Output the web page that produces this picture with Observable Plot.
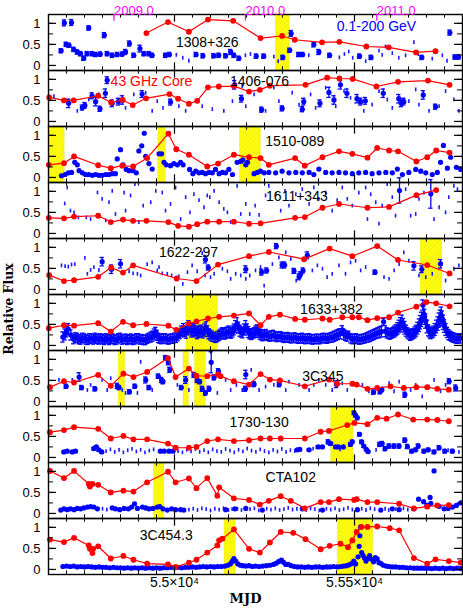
<!DOCTYPE html>
<html><head><meta charset="utf-8">
<script src="https://cdn.jsdelivr.net/npm/d3@7"></script>
<script src="https://cdn.jsdelivr.net/npm/@observablehq/plot@0.6"></script>
<style>html,body{margin:0;padding:0;background:#fff}#chart svg{display:block}</style>
</head><body><div id="chart"></div>
<script>
const sources = ["1308+326","1406-076","1510-089","1611+343","1622-297","1633+382","3C345","1730-130","CTA102","3C454.3"];
const yearTicks = [54832, 55197, 55562];
const yearLabels = ["2009.0","2010.0","2011.0"];
const mjdTicks = [55000, 55500];
const mjdLabels = ["5.5×10⁴","5.55×10⁴"];
const fluxTicks = [0, 0.5, 1];
const fluxTickLabels = ["0","0.5","1"];

// ---- 1308+326 ----
const radio_1308 = [[54922,0.77],[54982,1.03],[55040,0.80],[55093,1.09],[55163,1.06],[55239,0.65],[55299,0.70],[55334,0.61],[55410,0.55],[55458,0.56],[55533,0.45],[55595,0.43],[55671,0.31],[55725,0.34]];
const det_1308 = [[54685,0.35,0.05],[54694,1.01,0.07],[54699,0.50,0.05],[54707,0.48,0.05],[54714,1.02,0.07],[54720,0.38,0.05],[54730,0.32,0.05],[54739,0.28,0.05],[54748,0.17,0.05],[54757,0.28,0.05],[54762,0.89,0.05],[54771,0.28,0.05],[54781,0.26,0.05],[54794,0.27,0.05],[54805,0.72,0.06],[54813,0.28,0.05],[54827,0.24,0.05],[54841,0.26,0.05],[54855,0.27,0.05],[54864,0.32,0.06],[54875,0.52,0.06],[54887,0.24,0.05],[54904,0.40,0.08],[54915,0.28,0.05],[54929,0.28,0.05],[54938,0.24,0.05],[54975,0.24,0.05],[54986,0.26,0.05],[55060,0.26,0.05],[55079,0.23,0.05],[55109,0.23,0.05],[55123,0.24,0.05],[55142,0.23,0.05],[55156,0.32,0.06],[55165,0.24,0.05],[55179,0.17,0.05],[55227,0.22,0.05],[55248,0.22,0.05],[55301,0.19,0.05],[55320,0.36,0.05],[55324,0.76,0.07],[55345,0.26,0.05],[55356,0.26,0.05],[55387,0.50,0.06],[55401,0.32,0.06],[55431,0.24,0.05],[55514,0.22,0.05],[55546,0.19,0.05],[55687,0.19,0.05],[55765,0.78,0.06],[55779,0.20,0.05],[55789,0.20,0.05]];
const ul_1308 = [[55005,0.24],[55023,0.17],[55040,0.10],[55197,0.23],[55211,0.26],[55276,0.20],[55288,0.09],[55373,0.23],[55458,0.18],[55472,0.26],[55484,0.32],[55495,0.17],[55531,0.09],[55568,0.34],[55577,0.24],[55586,0.44],[55605,0.28],[55623,0.17],[55642,0.23],[55665,0.54],[55677,0.26],[55716,0.15],[55744,0.23],[55757,0.10]];
const shade_1308 = [[55282,55320]];

// ---- 1406-076 ----
const radio_1406 = [[54652,0.57],[54693,0.50],[54720,0.50],[54788,0.61],[54824,0.45],[54856,0.51],[54884,0.39],[54921,0.55],[54986,0.65],[55010,0.54],[55040,0.42],[55063,0.49],[55093,0.81],[55123,0.83],[55165,0.84],[55207,0.71],[55237,0.75],[55265,0.85],[55364,0.87],[55424,1.04],[55458,1.02],[55495,1.01],[55561,0.83],[55621,0.94],[55704,0.97],[55764,0.87]];
const det_1406 = [[54706,0.43,0.1],[54744,0.33,0.06],[54751,0.38,0.07],[54771,0.61,0.07],[54781,0.47,0.1],[54793,0.30,0.06],[54808,0.67,0.1],[54813,0.98,0.08],[54827,0.43,0.08],[54844,0.47,0.08],[54855,0.51,0.1],[54910,0.65,0.08],[54989,0.46,0.07],[55167,0.87,0.1],[55186,0.54,0.08],[55242,0.28,0.06],[55299,0.31,0.06],[55355,0.29,0.06],[55359,0.47,0.08],[55404,0.43,0.08],[55429,0.69,0.12],[55443,0.51,0.1],[55461,0.87,0.1],[55479,0.67,0.1],[55507,0.54,0.1],[55517,0.47,0.08],[55530,0.49,0.08],[55580,0.67,0.1],[55623,0.54,0.1],[55630,0.43,0.08],[55637,0.47,0.08],[55691,0.63,0.1],[55725,0.35,0.06]];
const ul_1406 = [[54665,0.59],[54730,0.24],[54762,0.51],[54790,0.63],[54864,0.31],[54887,0.63],[54920,0.67],[54938,0.24],[54952,0.47],[54968,0.31],[55012,0.35],[55031,0.24],[55077,0.35],[55105,0.28],[55137,0.24],[55161,0.47],[55188,0.83],[55198,0.35],[55221,0.63],[55253,0.24],[55276,0.79],[55290,0.47],[55327,0.67],[55346,0.39],[55378,0.63],[55392,0.31],[55420,0.79],[55448,0.35],[55471,0.71],[55489,0.55],[55526,0.24],[55549,0.39],[55568,0.71],[55591,0.51],[55605,0.31],[55651,0.47],[55670,0.75],[55679,0.39],[55707,0.24],[55735,0.35],[55753,0.71],[55776,0.51],[55790,0.24]];
const shade_1406 = [];

// ---- 1510-089 ----
const radio_1510 = [[54651,0.30],[54693,0.34],[54721,0.50],[54788,0.29],[54823,0.22],[54855,0.28],[54885,0.26],[54924,0.46],[54983,1.04],[55005,0.67],[55040,0.54],[55091,0.26],[55121,0.33],[55165,0.54],[55207,0.48],[55239,0.46],[55262,0.30],[55335,0.46],[55362,0.28],[55411,0.48],[55457,0.62],[55494,0.56],[55536,0.47],[55563,0.70],[55596,0.64],[55621,0.62],[55672,0.38],[55702,0.48],[55727,0.64],[55764,0.59]];
const det_1510 = [[54686,0.04,0],[54696,0.07,0],[54705,0.11,0],[54714,0.12,0],[54723,0.36,0],[54730,0.30,0],[54735,0.16,0],[54744,0.11,0],[54753,0.07,0],[54762,0.07,0],[54772,0.05,0],[54781,0.07,0],[54790,0.05,0],[54799,0.05,0],[54809,0.07,0],[54818,0.07,0],[54827,0.09,0],[54836,0.09,0],[54841,0.44,0],[54850,0.66,0],[54857,0.30,0],[54866,0.19,0],[54874,0.16,0],[54885,0.16,0],[54894,0.11,0],[54901,0.63,0],[54909,0.75,0],[54916,1.05,0],[54920,0.50,0],[54929,0.33,0],[54938,0.20,0],[54957,0.56,0],[54964,0.56,0],[54971,0.36,0],[54977,0.30,0],[54989,0.28,0],[54998,0.33,0],[55008,0.30,0],[55017,0.36,0],[55024,0.30,0],[55042,0.19,0],[55051,0.09,0],[55059,0.15,0],[55068,0.11,0],[55077,0.12,0],[55086,0.09,0],[55096,0.12,0],[55105,0.11,0],[55114,0.19,0],[55124,0.09,0],[55133,0.12,0],[55142,0.11,0],[55151,0.19,0],[55161,0.07,0],[55174,0.36,0],[55184,0.38,0],[55190,0.42,0],[55198,0.30,0],[55203,0.36,0],[55221,0.09,0],[55230,0.12,0],[55239,0.15,0],[55249,0.11,0],[55262,0.12,0],[55281,0.11,0],[55299,0.15,0],[55318,0.11,0],[55337,0.12,0],[55355,0.11,0],[55374,0.12,0],[55387,0.07,0],[55401,0.20,0],[55420,0.12,0],[55438,0.11,0],[55457,0.12,0],[55475,0.11,0],[55494,0.09,0],[55512,0.11,0],[55531,0.12,0],[55549,0.09,0],[55568,0.11,0],[55587,0.12,0],[55605,0.11,0],[55619,0.20,0],[55633,0.07,0],[55651,0.12,0],[55670,0.19,0],[55684,0.15,0],[55698,0.11,0],[55716,0.07,0],[55730,0.12,0],[55739,0.36,0],[55747,0.76,0],[55758,0.22,0],[55767,0.48,0],[55783,0.24,0],[55795,0.19,0]];
const ul_1510 = [];
const shade_1510 = [[54653,54695],[54955,54976],[55182,55240]];

// ---- 1611+343 ----
const radio_1611 = [[54651,0.37],[54693,0.36],[54721,0.40],[54788,0.42],[54823,0.27],[54857,0.33],[54885,0.30],[54922,0.30],[54983,0.27],[55010,0.18],[55040,0.16],[55063,0.22],[55091,0.28],[55124,0.28],[55165,0.28],[55207,0.23],[55239,0.24],[55335,0.37],[55362,0.39],[55411,0.61],[55457,0.70],[55536,0.61],[55596,0.63],[55672,0.91],[55727,1.03]];
const det_1611 = [[55625,1.02,0.3],[55712,0.94,0.34]];
const ul_1611 = [[54702,1.08],[54695,0.70],[54711,0.53],[54721,0.49],[54733,0.37],[54755,0.37],[54767,0.33],[54786,0.96],[54790,0.41],[54799,0.81],[54809,0.30],[54818,0.73],[54827,1.00],[54836,0.45],[54860,0.96],[54864,0.53],[54878,0.89],[54890,1.16],[54901,0.26],[54913,0.65],[54934,0.73],[54948,1.00],[54966,0.96],[54975,0.53],[54989,0.69],[55003,1.08],[55017,0.33],[55031,0.85],[55043,0.49],[55054,0.92],[55068,0.78],[55082,0.61],[55091,0.89],[55098,0.85],[55110,1.00],[55124,0.73],[55137,0.57],[55147,0.49],[55156,0.26],[55174,1.12],[55184,0.45],[55198,0.69],[55209,0.45],[55224,0.65],[55235,0.43],[55253,0.89],[55262,1.12],[55281,0.92],[55295,0.53],[55307,1.00],[55318,0.65],[55337,0.92],[55355,1.04],[55374,0.69],[55387,1.08],[55401,0.81],[55420,0.96],[55438,0.53],[55452,0.78],[55466,1.08],[55480,0.81],[55494,0.65],[55512,0.96],[55531,1.08],[55536,0.33],[55545,0.92],[55559,0.73],[55568,0.22],[55577,0.65],[55591,1.16],[55605,0.85],[55614,0.41],[55642,1.04],[55656,0.41],[55670,0.45],[55679,0.81],[55693,0.96],[55721,0.33],[55735,0.61],[55753,0.49],[55762,0.85],[55776,1.12],[55786,1.04]];
const shade_1611 = [];

// ---- 1622-297 ----
const radio_1622 = [[54652,0.34],[54693,0.20],[54721,0.22],[54788,0.30],[54824,0.52],[54857,0.40],[54885,0.57],[55006,0.26],[55061,0.20],[55121,0.59],[55207,0.79],[55262,0.89],[55360,0.72],[55431,0.97],[55494,0.79],[55563,1.03],[55621,0.70],[55702,0.58],[55764,0.38]];
const det_1622 = [[54799,0.66,0.1],[54825,0.48,0.1],[54850,0.61,0.1],[55086,0.71,0.08],[55094,0.52,0.06],[55198,0.48,0.08],[55242,0.41,0.07],[55256,0.45,0.06],[55283,1.03,0.06],[55299,0.58,0.07],[55306,0.58,0.07],[55332,0.44,0.06],[55346,0.30,0.07],[55350,0.36,0.06],[55357,0.45,0.06],[55369,0.81,0.08],[55557,0.41,0.05],[55665,0.56,0.1],[55687,0.48,0.08],[55739,0.61,0.1]];
const ul_1622 = [[54686,0.56],[54696,0.54],[54705,0.53],[54714,0.58],[54723,0.59],[54751,0.74],[54758,0.36],[54767,0.45],[54776,0.52],[54790,0.45],[54874,0.42],[54885,0.37],[54897,0.36],[54906,0.32],[54924,0.59],[54938,0.63],[54952,0.44],[54957,0.52],[54966,0.37],[54980,0.36],[54992,0.32],[55012,0.30],[55023,0.12],[55036,0.40],[55049,0.56],[55063,0.42],[55077,0.85],[55085,0.32],[55100,0.28],[55110,0.36],[55133,0.48],[55147,0.42],[55156,0.24],[55170,0.36],[55184,0.32],[55198,0.24],[55209,0.32],[55225,0.44],[55239,0.52],[55249,0.08],[55272,0.59],[55290,0.75],[55309,0.87],[55323,0.71],[55338,0.20],[55383,0.44],[55397,0.56],[55411,0.48],[55424,0.28],[55438,0.36],[55457,0.56],[55475,0.36],[55489,0.63],[55503,0.67],[55517,0.44],[55531,0.52],[55582,0.28],[55596,0.24],[55610,0.44],[55624,0.59],[55637,0.87],[55651,0.67],[55679,0.32],[55698,0.28],[55716,0.36],[55753,0.20],[55776,0.48],[55790,0.56]];
const shade_1622 = [[55684,55744]];

// ---- 1633+382 ----
const radio_1633 = [[54651,0.41],[54693,0.48],[54721,0.47],[54788,0.53],[54823,0.33],[54857,0.56],[54885,0.48],[54922,0.51],[54983,0.47],[55005,0.37],[55040,0.52],[55061,0.57],[55093,0.64],[55124,0.68],[55165,0.71],[55207,0.76],[55239,0.48],[55262,0.68],[55293,0.73],[55335,0.63],[55362,0.61],[55411,0.64],[55431,0.61],[55466,0.67],[55494,0.67],[55512,0.67],[55536,0.60],[55563,0.65],[55596,0.67],[55621,0.78],[55672,0.92],[55700,1.03],[55727,1.00],[55764,0.93]];
const det_1633 = [[54690,0.20,0.12],[54696,0.26,0.13],[54700,0.33,0.13],[54705,0.39,0.13],[54712,0.25,0.12],[54720,0.15,0.11],[54725,0.19,0.11],[54730,0.18,0.11],[54735,0.15,0.11],[54740,0.14,0.11],[54745,0.18,0.11],[54750,0.17,0.11],[54755,0.14,0.11],[54760,0.13,0.11],[54765,0.17,0.11],[54770,0.16,0.11],[54775,0.14,0.11],[54780,0.18,0.11],[54785,0.16,0.11],[54790,0.14,0.11],[54795,0.17,0.11],[54800,0.15,0.11],[54805,0.13,0.11],[54810,0.17,0.11],[54815,0.15,0.11],[54820,0.13,0.11],[54825,0.16,0.11],[54830,0.16,0.11],[54835,0.13,0.11],[54840,0.14,0.11],[54845,0.17,0.11],[54850,0.18,0.11],[54855,0.14,0.11],[54860,0.15,0.11],[54865,0.16,0.11],[54870,0.13,0.11],[54875,0.15,0.11],[54880,0.16,0.11],[54885,0.13,0.11],[54890,0.14,0.11],[54895,0.17,0.11],[54900,0.17,0.11],[54905,0.14,0.11],[54910,0.15,0.11],[54915,0.13,0.11],[54920,0.13,0.11],[54925,0.16,0.11],[54930,0.18,0.11],[54935,0.20,0.12],[54940,0.22,0.12],[54944,0.27,0.12],[54948,0.31,0.12],[54952,0.24,0.12],[54956,0.18,0.11],[54960,0.16,0.11],[54965,0.15,0.11],[54970,0.17,0.11],[54975,0.17,0.11],[54980,0.15,0.11],[54985,0.14,0.11],[54990,0.16,0.11],[54995,0.16,0.11],[55000,0.18,0.11],[55005,0.18,0.11],[55010,0.23,0.12],[55015,0.28,0.12],[55020,0.33,0.13],[55025,0.38,0.14],[55029,0.34,0.13],[55033,0.30,0.13],[55037,0.40,0.14],[55040,0.45,0.14],[55044,0.38,0.13],[55048,0.33,0.13],[55052,0.36,0.14],[55056,0.38,0.14],[55060,0.33,0.13],[55064,0.29,0.13],[55068,0.32,0.13],[55072,0.35,0.13],[55076,0.33,0.13],[55080,0.31,0.13],[55084,0.37,0.14],[55088,0.42,0.14],[55092,0.34,0.13],[55096,0.28,0.12],[55100,0.25,0.12],[55105,0.22,0.12],[55110,0.20,0.11],[55115,0.18,0.11],[55120,0.21,0.12],[55125,0.24,0.12],[55129,0.27,0.12],[55133,0.30,0.12],[55137,0.28,0.12],[55141,0.27,0.12],[55145,0.30,0.13],[55150,0.33,0.13],[55154,0.31,0.12],[55158,0.29,0.12],[55162,0.33,0.13],[55166,0.38,0.13],[55170,0.45,0.14],[55174,0.52,0.14],[55178,0.42,0.13],[55182,0.35,0.13],[55186,0.32,0.12],[55190,0.30,0.12],[55194,0.38,0.13],[55198,0.45,0.14],[55202,0.38,0.13],[55206,0.32,0.13],[55210,0.28,0.12],[55214,0.26,0.12],[55218,0.28,0.12],[55222,0.30,0.12],[55226,0.33,0.13],[55230,0.36,0.13],[55234,0.31,0.12],[55238,0.27,0.12],[55242,0.25,0.12],[55246,0.23,0.12],[55250,0.25,0.12],[55255,0.26,0.12],[55260,0.23,0.11],[55265,0.21,0.11],[55270,0.23,0.12],[55275,0.24,0.12],[55280,0.22,0.11],[55285,0.20,0.11],[55290,0.21,0.11],[55295,0.22,0.11],[55300,0.20,0.11],[55305,0.18,0.11],[55310,0.19,0.11],[55315,0.20,0.11],[55320,0.18,0.11],[55325,0.17,0.11],[55330,0.18,0.11],[55335,0.19,0.11],[55340,0.17,0.11],[55345,0.16,0.11],[55350,0.17,0.11],[55355,0.18,0.11],[55360,0.16,0.11],[55365,0.15,0.11],[55370,0.16,0.11],[55375,0.17,0.11],[55380,0.15,0.11],[55385,0.14,0.11],[55390,0.15,0.11],[55395,0.16,0.11],[55400,0.15,0.11],[55405,0.15,0.11],[55410,0.17,0.11],[55415,0.18,0.11],[55420,0.17,0.11],[55425,0.16,0.11],[55430,0.18,0.11],[55435,0.19,0.11],[55440,0.20,0.12],[55445,0.22,0.12],[55450,0.24,0.12],[55455,0.26,0.12],[55460,0.28,0.12],[55466,0.37,0.1],[55470,0.27,0.12],[55475,0.24,0.12],[55480,0.21,0.11],[55484,0.26,0.08],[55490,0.17,0.11],[55495,0.15,0.11],[55500,0.16,0.11],[55505,0.17,0.11],[55510,0.15,0.11],[55515,0.14,0.11],[55520,0.15,0.11],[55525,0.16,0.11],[55530,0.17,0.11],[55535,0.19,0.11],[55540,0.20,0.12],[55545,0.22,0.12],[55550,0.24,0.12],[55555,0.26,0.12],[55560,0.28,0.12],[55565,0.30,0.12],[55570,0.31,0.13],[55575,0.33,0.13],[55581,0.56,0.08],[55586,0.34,0.13],[55591,0.30,0.12],[55596,0.28,0.12],[55600,0.27,0.12],[55604,0.29,0.12],[55608,0.31,0.12],[55612,0.33,0.13],[55616,0.36,0.13],[55620,0.40,0.14],[55624,0.45,0.15],[55628,0.50,0.16],[55632,0.55,0.17],[55636,0.48,0.16],[55640,0.42,0.15],[55644,0.35,0.13],[55648,0.30,0.12],[55652,0.27,0.12],[55656,0.24,0.12],[55660,0.26,0.12],[55664,0.28,0.12],[55668,0.31,0.13],[55672,0.35,0.13],[55676,0.41,0.14],[55680,0.48,0.15],[55683,0.55,0.16],[55686,0.62,0.17],[55690,0.96,0.12],[55692,0.75,0.19],[55695,0.68,0.18],[55698,0.58,0.17],[55702,0.45,0.15],[55706,0.36,0.13],[55709,0.32,0.12],[55712,0.28,0.12],[55716,0.30,0.12],[55720,0.33,0.13],[55724,0.38,0.14],[55728,0.45,0.15],[55732,0.52,0.16],[55735,0.60,0.17],[55738,0.66,0.18],[55741,0.72,0.19],[55744,0.64,0.18],[55747,0.55,0.17],[55750,0.46,0.15],[55754,0.38,0.14],[55758,0.31,0.12],[55762,0.26,0.12],[55766,0.23,0.11],[55770,0.21,0.11],[55774,0.19,0.11],[55778,0.18,0.11],[55782,0.17,0.11],[55786,0.16,0.11],[55790,0.17,0.11],[55794,0.17,0.11]];
const ul_1633 = [];
const shade_1633 = [[55033,55121]];

// ---- 3C345 ----
const radio_345 = [[54654,0.34],[54693,0.48],[54721,0.45],[54788,0.63],[54823,0.37],[54858,0.66],[54886,0.58],[54924,0.70],[54982,1.03],[55003,0.58],[55040,0.78],[55061,0.61],[55091,0.60],[55121,0.64],[55128,0.60],[55165,0.48],[55207,0.40],[55239,0.65],[55265,0.52],[55293,0.50],[55362,0.36],[55429,0.52],[55452,0.42],[55494,0.42],[55506,0.40],[55536,0.30],[55563,0.32],[55600,0.36],[55637,0.32],[55672,0.34],[55702,0.34],[55730,0.30],[55762,0.28]];
const det_345 = [[54699,0.36,0.05],[54735,0.58,0.1],[54742,0.33,0.05],[54779,0.30,0.05],[54841,0.37,0.06],[54846,0.33,0.05],[54875,0.23,0.05],[54890,0.36,0.05],[54920,0.51,0.07],[54929,0.33,0.05],[54955,0.60,0.05],[54964,0.51,0.06],[54968,0.47,0.05],[54975,1.04,0.05],[54983,0.93,0.06],[54987,0.75,0.06],[55019,0.33,0.05],[55031,0.51,0.08],[55054,0.63,0.06],[55063,0.51,0.06],[55070,0.47,0.05],[55077,0.30,0.06],[55086,0.20,0.05],[55096,0.30,0.06],[55102,0.93,0.25],[55110,0.57,0.06],[55122,0.72,0.06],[55197,0.30,0.06],[55198,0.64,0.1],[55221,0.41,0.06],[55291,0.40,0.05],[55450,0.41,0.08],[55553,0.22,0.05],[55571,0.23,0.05],[55576,0.28,0.05],[55640,0.16,0.06],[55763,0.48,0.06],[55781,0.32,0.07]];
const ul_345 = [[54679,0.50],[54716,0.50],[54758,0.26],[54767,0.38],[54799,0.50],[54813,0.26],[54823,0.54],[54855,0.26],[54864,0.19],[54897,0.19],[54906,0.93],[54938,0.26],[55008,0.38],[55040,0.26],[55119,0.19],[55142,0.50],[55156,0.26],[55172,0.38],[55188,0.26],[55213,0.74],[55235,0.26],[55253,0.34],[55276,0.38],[55309,0.26],[55318,0.46],[55346,0.38],[55374,0.26],[55387,0.38],[55401,0.50],[55420,0.38],[55438,0.26],[55466,0.42],[55480,0.26],[55522,0.38],[55540,0.23],[55577,0.30],[55596,0.42],[55610,0.23],[55624,0.46],[55656,0.26],[55670,0.38],[55688,0.11],[55707,0.34],[55721,0.50],[55739,0.23],[55753,0.38]];
const shade_345 = [[54845,54863],[55025,55040],[55057,55087]];

// ---- 1730-130 ----
const radio_1730 = [[54654,0.60],[54693,0.65],[54721,0.72],[54788,0.68],[54823,0.45],[54858,0.51],[54886,0.43],[54924,0.43],[54982,0.33],[55003,0.23],[55040,0.23],[55061,0.25],[55091,0.39],[55121,0.43],[55165,0.39],[55207,0.41],[55239,0.45],[55265,0.45],[55295,0.45],[55362,0.45],[55406,0.61],[55429,0.63],[55480,0.77],[55500,0.82],[55536,0.79],[55563,0.94],[55589,0.92],[55621,1.02],[55663,0.90],[55702,0.90],[55730,0.89],[55762,0.86]];
const det_1730 = [[54693,0.13,0.02],[54702,0.15,0.02],[54716,0.13,0.02],[54725,0.15,0.02],[54776,0.21,0.03],[54783,0.25,0.03],[54790,0.18,0.03],[54798,0.13,0.02],[54961,0.15,0.02],[54971,0.15,0.02],[54985,0.15,0.02],[54996,0.15,0.02],[55341,0.18,0.02],[55348,0.19,0.02],[55374,0.18,0.02],[55399,0.25,0.03],[55411,0.25,0.03],[55427,0.37,0.05],[55434,0.33,0.04],[55448,0.25,0.03],[55455,0.25,0.03],[55469,0.25,0.03],[55489,0.31,0.04],[55494,0.37,0.04],[55499,1.06,0.04],[55503,1.00,0.04],[55508,0.94,0.04],[55514,0.55,0.04],[55520,0.37,0.04],[55526,0.27,0.03],[55533,0.19,0.03],[55538,0.14,0.03],[55570,0.31,0.05],[55577,0.33,0.05],[55585,0.21,0.05],[55596,0.27,0.05],[55610,0.27,0.05],[55624,0.27,0.05],[55640,0.41,0.05],[55647,0.26,0.05],[55659,0.15,0.04],[55670,0.18,0.04],[55677,0.27,0.05],[55693,0.15,0.04],[55705,0.18,0.04],[55721,0.13,0.04],[55735,0.23,0.05],[55751,0.15,0.04],[55772,0.15,0.04]];
const ul_1730 = [[54810,0.14],[54822,0.18],[54834,0.12],[54846,0.17],[54858,0.11],[54870,0.16],[54882,0.19],[54894,0.13],[54906,0.17],[54918,0.11],[54930,0.15],[54942,0.18],[55010,0.14],[55022,0.11],[55034,0.17],[55046,0.13],[55058,0.19],[55070,0.12],[55082,0.16],[55094,0.11],[55106,0.18],[55118,0.14],[55130,0.12],[55142,0.19],[55154,0.15],[55166,0.11],[55178,0.17],[55190,0.13],[55202,0.20],[55207,0.37],[55214,0.15],[55226,0.12],[55238,0.18],[55250,0.14],[55262,0.11],[55274,0.17],[55286,0.13],[55298,0.19],[55310,0.12],[55322,0.16],[55334,0.14],[55385,0.20],[55460,0.18],[55560,0.17],[55690,0.13],[55760,0.16],[55790,0.12]];
const shade_1730 = [[55435,55497]];

// ---- CTA102 ----
const radio_cta = [[54654,1.01],[54693,0.84],[54721,1.01],[54762,0.70],[54765,0.64],[54772,0.70],[54788,0.68],[54823,0.50],[54858,0.54],[54886,0.52],[54924,0.74],[54982,0.99],[55003,0.74],[55040,0.83],[55061,0.60],[55091,0.84],[55119,0.42],[55124,0.62],[55165,0.36],[55207,0.32],[55237,0.21],[55262,0.30],[55295,0.41],[55323,0.30],[55362,0.12],[55406,0.27],[55429,0.27],[55457,0.34],[55499,0.32],[55506,0.34],[55536,0.27],[55563,0.27],[55624,0.23],[55665,0.12],[55702,0.16],[55730,0.19],[55762,0.20]];
const det_cta = [[54684,0.08,0],[54693,0.11,0],[54702,0.09,0],[54711,0.11,0],[54721,0.09,0],[54730,0.12,0],[54739,0.11,0],[54748,0.13,0],[54758,0.15,0],[54767,0.16,0],[54776,0.15,0],[54786,0.11,0],[54827,0.13,0],[54836,0.11,0],[54848,0.09,0],[54860,0.12,0],[54872,0.11,0],[54881,0.15,0],[54889,0.23,0],[54897,0.12,0],[54911,0.15,0],[54920,0.13,0],[54929,0.11,0],[54940,0.12,0],[54952,0.15,0],[54959,0.16,0],[54968,0.11,0],[54980,0.08,0],[54992,0.11,0],[55003,0.09,0],[55017,0.09,0],[55026,0.08,0],[55142,0.09,0],[55168,0.11,0],[55198,0.12,0],[55244,0.08,0],[55355,0.11,0],[55411,0.08,0],[55508,0.09,0],[55573,0.08,0],[55605,0.11,0],[55624,0.09,0],[55665,0.11,0],[55678,0.34,0],[55692,0.28,0],[55701,0.19,0],[55710,0.38,0],[55712,0.24,0],[55721,1.01,0],[55735,0.17,0],[55749,0.11,0],[55760,0.12,0],[55772,0.15,0],[55783,0.19,0],[55795,0.25,0]];
const ul_cta = [[54800,0.10],[54812,0.08],[55040,0.08],[55052,0.10],[55064,0.07],[55076,0.11],[55088,0.09],[55100,0.06],[55112,0.10],[55124,0.08],[55136,0.11],[55150,0.07],[55160,0.09],[55175,0.10],[55186,0.07],[55210,0.09],[55222,0.11],[55234,0.06],[55256,0.10],[55268,0.08],[55280,0.11],[55292,0.07],[55304,0.09],[55316,0.12],[55328,0.08],[55340,0.10],[55366,0.07],[55378,0.11],[55390,0.09],[55402,0.06],[55422,0.10],[55434,0.08],[55446,0.11],[55458,0.07],[55470,0.09],[55482,0.12],[55494,0.08],[55520,0.10],[55532,0.07],[55544,0.11],[55556,0.09],[55585,0.10],[55595,0.07],[55615,0.09],[55636,0.11],[55648,0.08],[55660,0.10]];
const shade_cta = [[54943,54972]];

// ---- 3C454.3 ----
const radio_454 = [[54654,0.71],[54693,0.65],[54721,0.75],[54762,0.57],[54765,0.49],[54772,0.39],[54774,0.49],[54788,0.55],[54823,0.26],[54858,0.32],[54886,0.23],[54924,0.14],[54982,0.12],[55003,0.06],[55040,0.16],[55061,0.23],[55091,0.40],[55119,0.57],[55124,0.69],[55133,0.73],[55165,0.95],[55207,0.49],[55237,0.40],[55265,0.64],[55295,0.89],[55330,0.87],[55364,0.72],[55406,0.48],[55431,0.56],[55461,0.61],[55482,0.53],[55494,0.69],[55506,0.89],[55519,1.01],[55536,1.01],[55563,1.02],[55598,0.98],[55624,0.93],[55665,0.27],[55702,0.14],[55725,0.24],[55762,0.20],[55795,0.16]];
const det_454 = [[54690,0.07,0],[54700,0.08,0],[54710,0.07,0],[54720,0.08,0],[54730,0.06,0],[54740,0.07,0],[54750,0.06,0],[54760,0.07,0],[54770,0.06,0],[54780,0.05,0],[54790,0.06,0],[54800,0.05,0],[54810,0.05,0],[54820,0.04,0],[54830,0.05,0],[54840,0.04,0],[54850,0.04,0],[54860,0.03,0],[54870,0.04,0],[54880,0.03,0],[54890,0.04,0],[54900,0.03,0],[54910,0.04,0],[54920,0.03,0],[54930,0.04,0],[54940,0.03,0],[54950,0.04,0],[54960,0.03,0],[54970,0.04,0],[54980,0.04,0],[54990,0.05,0],[55000,0.04,0],[55010,0.05,0],[55020,0.04,0],[55030,0.05,0],[55040,0.05,0],[55050,0.06,0],[55060,0.05,0],[55070,0.06,0],[55080,0.07,0],[55090,0.06,0],[55100,0.07,0],[55110,0.06,0],[55120,0.07,0],[55130,0.07,0],[55140,0.08,0],[55148,0.10,0],[55155,0.13,0],[55160,0.19,0],[55165,0.26,0],[55170,0.20,0],[55176,0.13,0],[55183,0.10,0],[55190,0.09,0],[55198,0.08,0],[55207,0.09,0],[55216,0.07,0],[55225,0.08,0],[55235,0.07,0],[55245,0.08,0],[55255,0.09,0],[55265,0.10,0],[55275,0.12,0],[55283,0.15,0],[55290,0.19,0],[55297,0.22,0],[55303,0.17,0],[55309,0.12,0],[55316,0.12,0],[55324,0.09,0],[55333,0.07,0],[55342,0.06,0],[55352,0.06,0],[55362,0.05,0],[55372,0.06,0],[55382,0.05,0],[55392,0.06,0],[55402,0.06,0],[55412,0.05,0],[55422,0.06,0],[55432,0.06,0],[55442,0.07,0],[55452,0.06,0],[55462,0.07,0],[55470,0.08,0],[55478,0.09,0],[55485,0.11,0],[55492,0.14,0],[55498,0.20,0],[55503,0.13,0],[55510,0.30,0],[55513,0.55,0],[55515,0.80,0],[55517,1.01,0],[55520,0.40,0],[55524,0.33,0],[55528,0.27,0],[55532,0.20,0],[55537,0.26,0],[55542,0.33,0],[55548,0.24,0],[55553,0.18,0],[55558,0.28,0],[55563,0.25,0],[55568,0.16,0],[55574,0.14,0],[55580,0.10,0],[55588,0.08,0],[55596,0.07,0],[55605,0.06,0],[55615,0.06,0],[55625,0.05,0],[55635,0.05,0],[55645,0.04,0],[55655,0.04,0],[55665,0.03,0],[55675,0.03,0],[55685,0.03,0],[55695,0.03,0],[55705,0.03,0],[55715,0.02,0],[55725,0.03,0],[55735,0.02,0],[55745,0.03,0],[55755,0.02,0],[55765,0.03,0],[55775,0.02,0],[55785,0.03,0],[55795,0.02,0]];
const ul_454 = [];
const shade_454 = [[55139,55170],[55454,55552]];

// ---- assemble ----
const radioBy = {"1308+326":radio_1308,"1406-076":radio_1406,"1510-089":radio_1510,"1611+343":radio_1611,"1622-297":radio_1622,"1633+382":radio_1633,"3C345":radio_345,"1730-130":radio_1730,"CTA102":radio_cta,"3C454.3":radio_454};
const detBy = {"1308+326":det_1308,"1406-076":det_1406,"1510-089":det_1510,"1611+343":det_1611,"1622-297":det_1622,"1633+382":det_1633,"3C345":det_345,"1730-130":det_1730,"CTA102":det_cta,"3C454.3":det_454};
const ulBy = {"1308+326":ul_1308,"1406-076":ul_1406,"1510-089":ul_1510,"1611+343":ul_1611,"1622-297":ul_1622,"1633+382":ul_1633,"3C345":ul_345,"1730-130":ul_1730,"CTA102":ul_cta,"3C454.3":ul_454};
const shadeBy = {"1308+326":shade_1308,"1406-076":shade_1406,"1510-089":shade_1510,"1611+343":shade_1611,"1622-297":shade_1622,"1633+382":shade_1633,"3C345":shade_345,"1730-130":shade_1730,"CTA102":shade_cta,"3C454.3":shade_454};

const radio = sources.flatMap(s => radioBy[s].map(([x, y]) => ({src: s, x, y})));
const det = sources.flatMap(s => detBy[s].map(([x, y, e]) => ({src: s, x, y, e})));
const detErr = det.filter(d => d.e > 0);
const ul = sources.flatMap(s => ulBy[s].map(([x, y]) => ({src: s, x, y})));
const shade = sources.flatMap(s => shadeBy[s].map(([x1, x2]) => ({src: s, x1, x2})));

// annotation anchors (MJD, relative flux) per panel
const nameAt = {"1308+326":[55091,0.54],"1406-076":[55236,0.95],"1510-089":[55334,0.86],"1611+343":[55340,0.87],"1622-297":[55039,0.88],"1633+382":[55436,0.86],"3C345":[55412,0.59],"1730-130":[55235,0.84],"CTA102":[55323,0.85],"3C454.3":[54977,0.81]};

const fh = 563.5 / sources.length;   // facet height in px
const W = 414;                       // inner width in px
const minorX = d3.range(54650, 55801, 50);
const minorY = [0, 0.25, 0.5, 0.75, 1];
const BLUE = "#0000ff", RED = "#ff0000";

const chart = Plot.plot({
  width: 463, height: 611,
  marginLeft: 48, marginRight: 1, marginTop: 12.5, marginBottom: 35,
  style: {fontFamily: "'Liberation Sans', Arial, sans-serif", fontSize: "13px", background: "white", overflow: "visible"},
  x: {domain: [54650, 55800], axis: null},
  y: {domain: [-0.12, 1.21], ticks: fluxTicks, tickFormat: d => fluxTickLabels[fluxTicks.indexOf(d)], tickSize: 0, tickPadding: 8, label: null},
  fy: {domain: sources, padding: 0, axis: null},
  marks: [
    Plot.rect(shade, {x1: "x1", x2: "x2", fy: "src", fill: "url(#hatch)", stroke: "#d8c800", strokeWidth: 0.6, strokeDasharray: "1,1.5"}),
    Plot.ruleX(ul, {x: "x", y1: d => d.y - 0.045, y2: d => d.y + 0.045, fy: "src", stroke: "#1a1aff", strokeWidth: 1.6}),
    Plot.ruleX(detErr, {x: "x", y1: d => d.y - d.e, y2: d => d.y + d.e, fy: "src", stroke: BLUE, strokeWidth: 1.3}),
    Plot.ruleY(detErr, {y: d => d.y - d.e, x1: d => d.x - 6, x2: d => d.x + 6, fy: "src", stroke: BLUE, strokeWidth: 1.3}),
    Plot.ruleY(detErr, {y: d => d.y + d.e, x1: d => d.x - 6, x2: d => d.x + 6, fy: "src", stroke: BLUE, strokeWidth: 1.3}),
    Plot.dot(det, {x: "x", y: "y", fy: "src", r: 2.6, fill: BLUE, stroke: "none"}),
    Plot.line(radio, {x: "x", y: "y", fy: "src", stroke: RED, strokeWidth: 1.2}),
    Plot.dot(radio, {x: "x", y: "y", fy: "src", r: 2.9, fill: RED, stroke: "none"}),
    Plot.text(sources, {x: s => nameAt[s][0], y: s => nameAt[s][1], fy: s => s, text: s => s, fill: "black", fontSize: 14}),
    Plot.text(["0.1-200 GeV"], {x: () => 55561, y: () => 0.93, fy: () => sources[0], text: d => d, fill: BLUE, fontSize: 14}),
    Plot.text(["43 GHz Core"], {x: () => 54936, y: () => 0.95, fy: () => sources[1], text: d => d, fill: RED, fontSize: 14}),
    Plot.frame({stroke: "black", strokeWidth: 1.4}),
    // inward ticks
    Plot.ruleX(minorX, {x: d => d, insetBottom: fh - 4, stroke: "black", strokeWidth: 1}),
    Plot.ruleX(minorX, {x: d => d, insetTop: fh - 4, stroke: "black", strokeWidth: 1}),
    Plot.ruleX(mjdTicks, {x: d => d, insetBottom: fh - 8, stroke: "black", strokeWidth: 1.2}),
    Plot.ruleX(mjdTicks, {x: d => d, insetTop: fh - 8, stroke: "black", strokeWidth: 1.2}),
    Plot.ruleY(minorY, {y: d => d, insetRight: W - 5, stroke: "black", strokeWidth: 1}),
    Plot.ruleY(minorY, {y: d => d, insetLeft: W - 5, stroke: "black", strokeWidth: 1}),
    Plot.ruleY(fluxTicks, {y: d => d, insetRight: W - 8, stroke: "black", strokeWidth: 1.2}),
    Plot.ruleY(fluxTicks, {y: d => d, insetLeft: W - 8, stroke: "black", strokeWidth: 1.2}),
    // top year axis (first panel)
    Plot.ruleX(yearTicks, {x: d => d, fy: () => sources[0], insetBottom: fh - 7, stroke: "#ff00ff", strokeWidth: 1.2}),
    Plot.text(yearTicks, {x: d => d, fy: () => sources[0], text: (d, i) => yearLabels[i], frameAnchor: "top", dy: -8.5, textAnchor: "start", fill: "#ff00ff", fontSize: 13}),
    // bottom MJD labels (last panel)
    Plot.text(mjdTicks, {x: d => d, fy: () => sources[sources.length - 1], text: (d, i) => mjdLabels[i], frameAnchor: "bottom", dy: 12, fill: "black", fontSize: 14}),
    Plot.text(["MJD"], {fy: () => sources[sources.length - 1], text: d => d, frameAnchor: "bottom", dy: 28, dx: -10, fill: "black", fontSize: 13, fontWeight: "bold", fontFamily: "'DejaVu Serif', serif"})
  ]
});

const svg = d3.select(chart);
const defs = svg.insert("defs", ":first-child");
const pat = defs.append("pattern").attr("id", "hatch").attr("patternUnits", "userSpaceOnUse")
  .attr("width", 3).attr("height", 3).attr("patternTransform", "rotate(45)");
pat.append("rect").attr("width", 3).attr("height", 3).attr("fill", "#ffff10");
pat.append("line").attr("x1", 0).attr("y1", 0).attr("x2", 0).attr("y2", 3).attr("stroke", "#e8dc00").attr("stroke-width", 1);
svg.append("text").attr("transform", "translate(9,309) rotate(-90)")
  .attr("text-anchor", "middle").attr("dominant-baseline", "middle")
  .attr("font-family", "'DejaVu Serif', serif").attr("font-weight", "bold").attr("font-size", 12.5)
  .attr("fill", "black").text("Relative Flux");
document.getElementById("chart").appendChild(chart);
</script>
</body></html>
